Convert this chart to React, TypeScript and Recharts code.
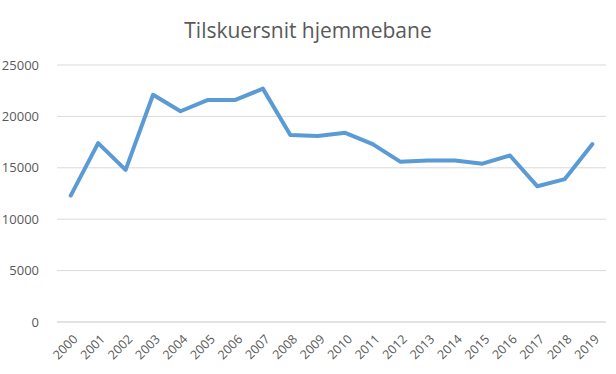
import { LineChart, Line, XAxis, YAxis, CartesianGrid } from "recharts";

const years = [
  "2000", "2001", "2002", "2003", "2004", "2005", "2006", "2007", "2008", "2009",
  "2010", "2011", "2012", "2013", "2014", "2015", "2016", "2017", "2018", "2019",
];
const attendance = [
  12300, 17400, 14800, 22100, 20500, 21600, 21600, 22700, 18200, 18100,
  18400, 17300, 15600, 15700, 15700, 15400, 16200, 13200, 13900, 17300,
];
const yTicks = [0, 5000, 10000, 15000, 20000, 25000];

const data = years.map((year, i) => ({ year, value: attendance[i] }));

const font = "'Open Sans', sans-serif";

function XTick({ x, y, payload }: any) {
  return (
    <text
      x={x}
      y={y}
      transform={`rotate(-45 ${x} ${y})`}
      textAnchor="end"
      fill="#595959"
      fontSize={12.5}
      fontFamily={font}
      dy={12.5}
      dx={-1.5}
    >
      {payload.value}
    </text>
  );
}

export default function App() {
  return (
    <div style={{ position: "absolute", left: 0, top: 0, width: 616, height: 374, background: "#fff" }}>
      <div
        style={{
          position: "absolute",
          top: 16,
          left: 0,
          width: 616,
          textAlign: "center",
          fontFamily: font,
          fontSize: 21,
          color: "#595959",
        }}
      >
        Tilskuersnit hjemmebane
      </div>
      <LineChart width={616} height={374} data={data} margin={{ top: 65, right: 10, bottom: 0, left: 0 }}>
        <CartesianGrid vertical={false} stroke="#d9d9d9" strokeWidth={1} />
        <XAxis
          dataKey="year"
          interval={0}
          height={52}
          padding={{ left: 13.7, right: 13.7 }}
          tickLine={false}
          axisLine={{ stroke: "#d9d9d9" }}
          tick={<XTick />}
        />
        <YAxis
          width={57}
          domain={[0, 25000]}
          ticks={yTicks}
          axisLine={false}
          tickLine={false}
          tickMargin={12}
          tick={{ fill: "#595959", fontSize: 13, fontFamily: font }}
        />
        <Line
          type="linear"
          dataKey="value"
          stroke="#5B9BD5"
          strokeWidth={4}
          strokeLinejoin="round"
          strokeLinecap="round"
          dot={false}
          isAnimationActive={false}
        />
      </LineChart>
    </div>
  );
}
